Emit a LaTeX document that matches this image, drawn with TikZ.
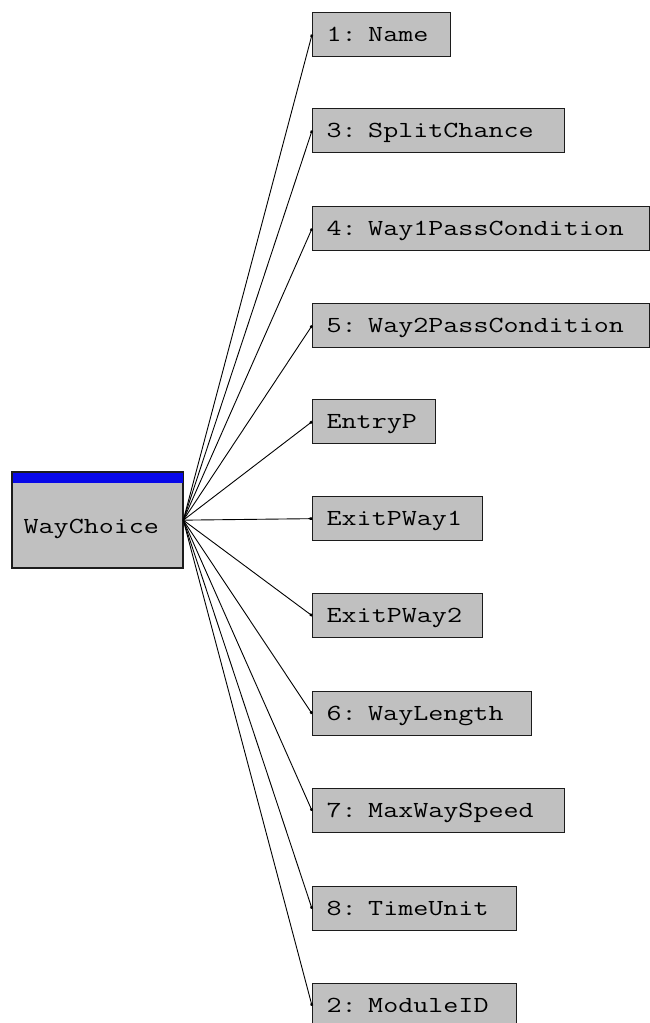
\documentclass[tikz,border=0pt]{standalone}
\usepackage{fontspec}
\usetikzlibrary{arrows.meta,calc}
\definecolor{boxfill}{RGB}{192,192,192}
\definecolor{boxline}{RGB}{28,28,28}
\definecolor{titlebar}{RGB}{8,8,232}
% wide typewriter face for the box labels
\newfontfamily\boxmono{Latin Modern Mono}[FakeStretch=1.27]
\begin{document}
\begin{tikzpicture}[x=1bp,y=-1bp,
  labelfont/.style={font=\fontsize{23bp}{27bp}\selectfont\boxmono},
  field/.style={draw=boxline, fill=boxfill, line width=1.3bp, anchor=north west,
    minimum height=44bp, inner xsep=14bp, inner ysep=0pt,
    text height=13.5bp, text depth=0pt, align=left, labelfont},
  classbox/.style={draw=boxline, fill=boxfill, line width=1.3bp, anchor=north west,
    minimum width=170bp, minimum height=95bp, inner xsep=11bp, inner ysep=0pt,
    text width=148bp, text height=40bp, text depth=13bp, align=left, labelfont},
  link/.style={line width=0.9bp, black, -{Square[length=2.4bp,width=2.4bp]}},
]
\useasboundingbox (0,0) rectangle (650,1023);

% class box with its title bar
\node[classbox] (wc) at (12,472) {WayChoice};
\fill[titlebar] (wc.north west) rectangle ($(wc.north east)+(0,11)$);
\draw[boxline, line width=1.3bp] (wc.north west) rectangle (wc.south east);

% attribute boxes
\node[field, text width=110bp] (n1) at (312,12)  {1: Name};
\node[field, text width=224bp] (n3) at (312,108) {3: SplitChance};
\node[field, text width=309bp] (n4) at (312,206) {4: Way1PassCondition};
\node[field, text width=309bp] (n5) at (312,303) {5: Way2PassCondition};
\node[field, text width=95bp]  (en) at (312,399) {EntryP};
\node[field, text width=142bp] (x1) at (312,496) {ExitPWay1};
\node[field, text width=142bp] (x2) at (312,593) {ExitPWay2};
\node[field, text width=191bp] (n6) at (312,691) {6: WayLength};
\node[field, text width=224bp] (n7) at (312,788) {7: MaxWaySpeed};
\node[field, text width=176bp] (n8) at (312,886) {8: TimeUnit};
\node[field, text width=176bp] (n2) at (312,983) {2: ModuleID};

% connectors from the class to each attribute
\foreach \t in {n1,n3,n4,n5,en,x1,x2,n6,n7,n8,n2}
  \draw[link] (wc.east) -- (\t.west);
\end{tikzpicture}
\end{document}
